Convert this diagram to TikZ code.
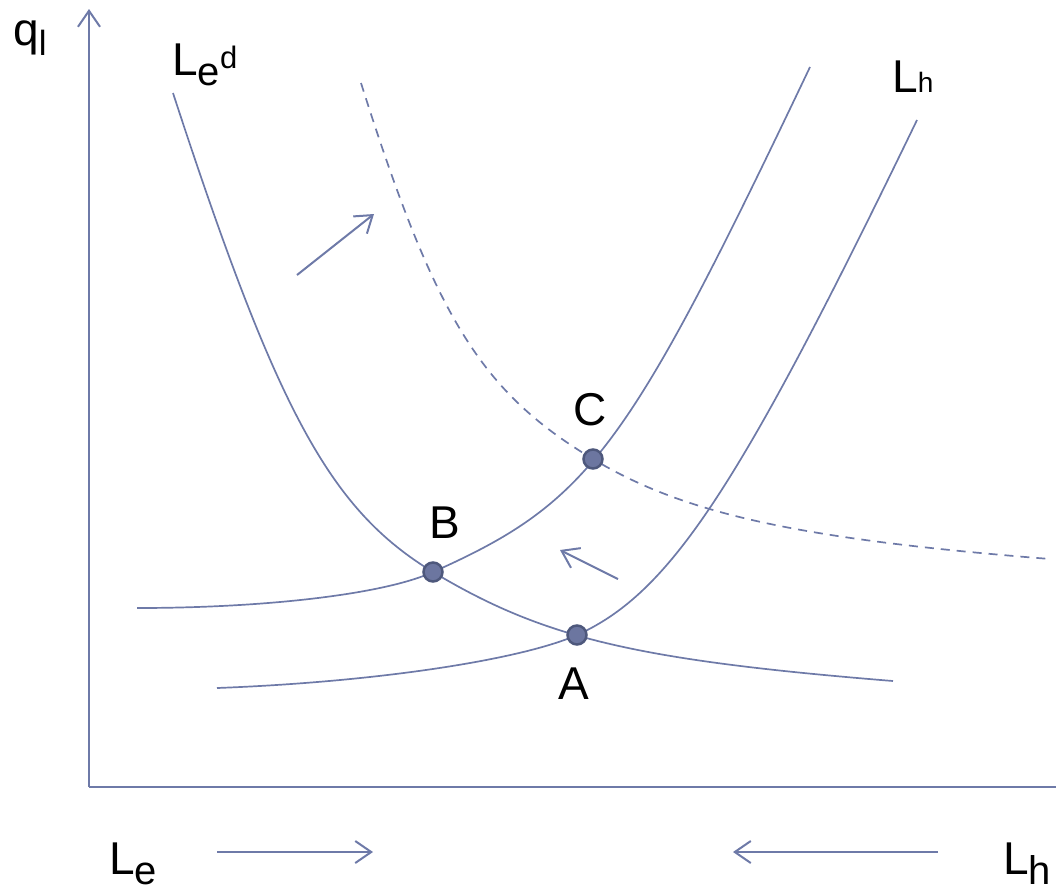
\documentclass[tikz,border=0pt]{standalone}
\usepackage{fontspec}
\setmainfont{Liberation Sans}
\usepackage{xcolor}
\usetikzlibrary{arrows.meta}
\definecolor{lineblue}{RGB}{110,122,168}
\definecolor{dotfill}{RGB}{108,118,160}
\definecolor{dotedge}{RGB}{78,88,124}
\newcommand{\lowr}[2][46]{\raisebox{-10pt}{\fontsize{#1}{#1}\selectfont #2}}
\newcommand{\highr}[2][31]{\raisebox{7pt}{\fontsize{#1}{#1}\selectfont #2}}
\tikzset{
  crv/.style={draw=lineblue,line width=1.7pt},
  arr/.style={draw=lineblue,line width=2pt,-{Straight Barb[length=16pt,width=22pt,line width=2pt]}},
  pt/.style={circle,fill=dotfill,draw=dotedge,line width=2.5pt,minimum size=19pt,inner sep=0pt},
  lbl/.style={font={\fontsize{46}{50}\selectfont},inner sep=0pt,text=black},
}

\begin{document}
\begin{tikzpicture}[x=1pt,y=-1pt]
  \useasboundingbox (0,0) rectangle (1056,892);
  % axes
  \coordinate (O) at (89,787);
  \coordinate (ytop) at (89,9);
  \coordinate (xend) at (1056,787);
  \draw[arr] (O) -- (ytop);
  \draw[crv,line width=2pt] (O) -- (xend);
  % equilibria
  \coordinate (pA) at (577,635);
  \coordinate (pB) at (433,572);
  \coordinate (pC) at (593,459);
  % demand curves
  \draw[crv] (173,93) .. controls (278,415) and (331,510) .. (pB)
    .. controls (543,638) and (635,660) .. (893,681);
  \draw[crv,dash pattern=on 9pt off 7pt] (361,83) .. controls (435,317) and (481,392) .. (pC)
    .. controls (684,514) and (799,539) .. (1050,559);
  % supply curves
  \draw[crv] (137,608) .. controls (267,608) and (385,594) .. (pB)
    .. controls (590,502) and (627,451) .. (810,67);
  \draw[crv] (217,688) .. controls (376,682) and (520,660) .. (pA)
    .. controls (670,593) and (738,490) .. (917,120);
  \foreach \n in {A,B,C}
    \node[pt] (\n) at (p\n) {};
  \node[lbl] (labA) at (574,684) {A};
  \node[lbl] (labB) at (445,523) {B};
  \node[lbl] (labC) at (590,410) {C};
  % shift arrows
  \coordinate (s1) at (297,275); \coordinate (e1) at (374,214);
  \coordinate (s2) at (618,579); \coordinate (e2) at (560,550);
  \coordinate (s3) at (217,852); \coordinate (e3) at (373,852);
  \coordinate (s4) at (938,852); \coordinate (e4) at (733,852);
  \draw[arr] (s1) -- (e1);
  \draw[arr] (s2) -- (e2);
  \draw[arr] (s3) -- (e3);
  \draw[arr] (s4) -- (e4);
  % labels
  \node[lbl,anchor=base west] (ql) at (13,45) {q\lowr[35]{l}};
  \node[lbl,anchor=base west] (Led) at (172,75) {L\lowr[40]{e}\highr{d}};
  \node[lbl,anchor=base west] (Lhtop) at (892,92) {L{\fontsize{28}{30}\selectfont h}};
  \node[lbl,anchor=base west] (Lebot) at (109,874) {L\lowr[40]{e}};
  \node[lbl,anchor=base west] (Lhbot) at (1003,874) {L\lowr[40]{h}};
\end{tikzpicture}
\end{document}
